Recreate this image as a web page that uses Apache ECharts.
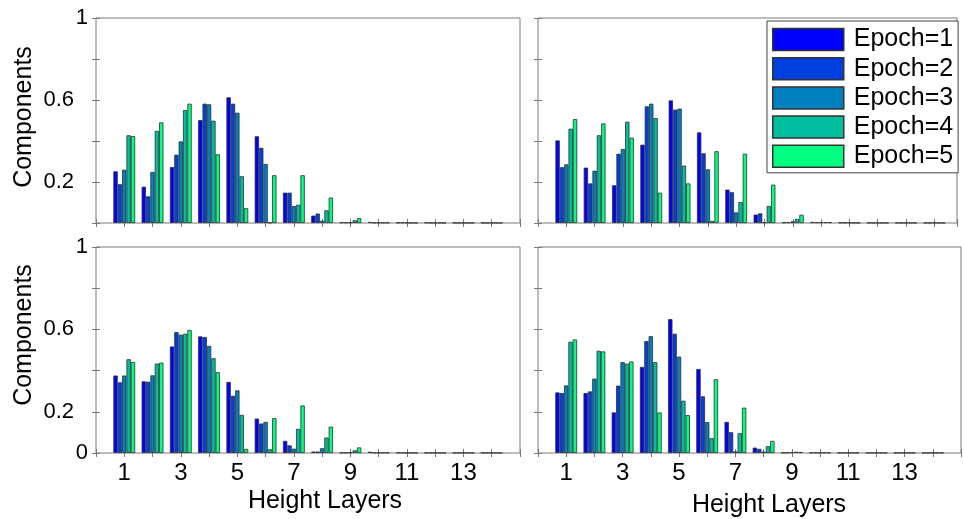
<!DOCTYPE html>
<html><head><meta charset="utf-8">
<script src="https://cdn.jsdelivr.net/npm/echarts@6/dist/echarts.min.js"></script>
<style>html,body{margin:0;padding:0;background:#fff}#c{width:964px;height:519px}</style>
</head><body><div id="c"></div>
<script>
const heightLayers = [1,2,3,4,5,6,7,8,9,10,11,12,13,14];
const epochNames = ['Epoch=1','Epoch=2','Epoch=3','Epoch=4','Epoch=5'];
const epochColors = ['#0000FF','#0040DF','#0080BF','#00BF9F','#00FF80'];
const xTickLabels = ['1','3','5','7','9','11','13'];
const yTickLabelsTop = ['0.2','0.6','1'];
const yTickLabelsBottom = ['0','0.2','0.6','1'];
const yTitle = 'Components';
const xTitle = 'Height Layers';

// Top-left panel
const tl_e1 = [0.252,0.177,0.273,0.502,0.613,0.423,0.148,0.036,0.003,0.005,0.002,0.002,0.001,0.001];
const tl_e2 = [0.189,0.130,0.333,0.582,0.582,0.367,0.148,0.046,0.003,0.002,0.002,0.001,0.001,0.001];
const tl_e3 = [0.260,0.249,0.398,0.579,0.538,0.288,0.083,0.011,0.003,0.002,0.002,0.001,0.001,0.001];
const tl_e4 = [0.428,0.449,0.551,0.499,0.228,0.002,0.089,0.062,0.013,0.002,0.001,0.001,0.001,0.001];
const tl_e5 = [0.424,0.491,0.582,0.335,0.072,0.233,0.233,0.124,0.024,0.002,0.001,0.001,0.001,0.001];
// Top-right panel
const tr_e1 = [0.403,0.270,0.184,0.382,0.598,0.442,0.163,0.041,0.003,0.005,0.002,0.001,0.001,0.001];
const tr_e2 = [0.272,0.193,0.338,0.569,0.553,0.340,0.150,0.047,0.004,0.004,0.002,0.001,0.001,0.001];
const tr_e3 = [0.286,0.255,0.361,0.582,0.558,0.262,0.052,0.003,0.008,0.004,0.002,0.001,0.001,0.001];
const tr_e4 = [0.460,0.428,0.494,0.512,0.280,0.010,0.102,0.083,0.020,0.004,0.001,0.001,0.001,0.001];
const tr_e5 = [0.507,0.486,0.416,0.148,0.193,0.350,0.338,0.187,0.040,0.004,0.001,0.001,0.001,0.001];
// Bottom-left panel
const bl_e1 = [0.376,0.348,0.517,0.566,0.345,0.167,0.059,0.007,0.002,0.006,0.002,0.001,0.001,0.001];
const bl_e2 = [0.343,0.346,0.587,0.563,0.278,0.143,0.037,0.007,0.002,0.002,0.001,0.001,0.001,0.001];
const bl_e3 = [0.376,0.377,0.574,0.520,0.304,0.151,0.021,0.023,0.003,0.002,0.001,0.001,0.001,0.001];
const bl_e4 = [0.455,0.434,0.579,0.460,0.185,0.018,0.117,0.075,0.013,0.002,0.001,0.001,0.001,0.001];
const bl_e5 = [0.442,0.439,0.597,0.392,0.020,0.169,0.231,0.128,0.027,0.002,0.001,0.001,0.001,0.001];
// Bottom-right panel
const br_e1 = [0.294,0.291,0.197,0.418,0.650,0.408,0.151,0.026,0.002,0.002,0.001,0.001,0.001,0.001];
const br_e2 = [0.291,0.299,0.327,0.543,0.579,0.275,0.101,0.020,0.002,0.002,0.001,0.001,0.001,0.001];
const br_e3 = [0.328,0.361,0.441,0.567,0.468,0.150,0.008,0.007,0.004,0.002,0.001,0.001,0.001,0.001];
const br_e4 = [0.540,0.496,0.434,0.441,0.254,0.072,0.096,0.033,0.006,0.002,0.001,0.001,0.001,0.001];
const br_e5 = [0.551,0.493,0.444,0.197,0.184,0.358,0.220,0.059,0.005,0.002,0.001,0.001,0.001,0.001];

const panels = [
  {data:[tl_e1,tl_e2,tl_e3,tl_e4,tl_e5], left:96, top:18, width:424, height:205, xmax:15, yLabels:yTickLabelsTop, xLabels:false, showY:true},
  {data:[tr_e1,tr_e2,tr_e3,tr_e4,tr_e5], left:538, top:18, width:419, height:205, xmax:14.8, yLabels:[], xLabels:false, showY:false},
  {data:[bl_e1,bl_e2,bl_e3,bl_e4,bl_e5], left:96, top:247, width:424, height:206, xmax:15, yLabels:yTickLabelsBottom, xLabels:true, showY:true},
  {data:[br_e1,br_e2,br_e3,br_e4,br_e5], left:538, top:247, width:425, height:206, xmax:15, yLabels:[], xLabels:true, showY:false}
];

const FONT = 'Liberation Sans, Arial, sans-serif';
const frameColor = '#7a7a7a';
const grids = [], xAxes = [], yAxes = [], series = [];

panels.forEach((p, g) => {
  grids.push({left:p.left, top:p.top, width:p.width, height:p.height, show:true, borderColor:frameColor, borderWidth:1, backgroundColor:'#fff'});
  ['bottom','top'].forEach((pos, k) => {
    xAxes.push({
      gridIndex:g, type:'value', min:0, max:p.xmax, interval:1, position:pos,
      axisLine:{show:false}, splitLine:{show:false},
      axisTick:{show:true, inside:true, length:4, lineStyle:{color:frameColor}},
      axisLabel:{show: p.xLabels && k===0, margin:8, fontSize:24, fontFamily:FONT, color:'#000',
        formatter: v => { const s = String(Math.round(v*1000)/1000); return xTickLabels.includes(s) ? s : ''; }}
    });
  });
  ['left','right'].forEach((pos, k) => {
    yAxes.push({
      gridIndex:g, type:'value', min:0, max:1, interval:0.2, position:pos,
      axisLine:{show:false}, splitLine:{show:false},
      axisTick:{show:true, inside:true, length:4, lineStyle:{color:frameColor}},
      axisLabel:{show: p.showY && k===0, margin:8, fontSize:22, fontFamily:FONT, color:'#000',
        rich:{d:{padding:[0,14,0,0], fontSize:22, fontFamily:FONT, color:'#000'}},
        formatter: v => {
          const s = String(Math.round(v*10)/10);
          if (!p.yLabels.includes(s)) return '';
          return s.indexOf('.') >= 0 ? '{d|' + s + '}' : s;
        }}
    });
  });
  p.data.forEach((arr, e) => {
    series.push({
      type:'bar', name:epochNames[e], xAxisIndex:2*g, yAxisIndex:2*g,
      data: heightLayers.map((h, i) => [h, arr[i]]),
      barWidth:4.36, barGap:'0%',
      itemStyle:{color:epochColors[e], borderColor:'#303030', borderWidth:0.8},
      emphasis:{disabled:true}
    });
  });
});

const chart = echarts.init(document.getElementById('c'), null, {renderer:'canvas'});
chart.setOption({
  animation:false,
  backgroundColor:'#fff',
  grid:grids, xAxis:xAxes, yAxis:yAxes, series:series,
  legend:{
    data:epochNames, left:767, top:21, orient:'vertical', icon:'rect',
    itemWidth:71, itemHeight:22, itemGap:4.2, padding:[6,5,4,5],
    borderColor:'#404040', borderWidth:1, backgroundColor:'#fff', selectedMode:false,
    itemStyle:{borderColor:'#333', borderWidth:1.5},
    textStyle:{fontSize:25, fontFamily:FONT, color:'#000', padding:[0,0,0,5]}
  },
  graphic:[
    {type:'text', x:24, y:117, rotation:Math.PI/2, style:{text:yTitle, fontSize:25, fontFamily:FONT, fill:'#000', align:'center', verticalAlign:'middle'}},
    {type:'text', x:24, y:335, rotation:Math.PI/2, style:{text:yTitle, fontSize:25, fontFamily:FONT, fill:'#000', align:'center', verticalAlign:'middle'}},
    {type:'text', x:325, y:501, style:{text:xTitle, fontSize:25, fontFamily:FONT, fill:'#000', align:'center', verticalAlign:'middle'}},
    {type:'text', x:769, y:505, style:{text:xTitle, fontSize:25, fontFamily:FONT, fill:'#000', align:'center', verticalAlign:'middle'}}
  ]
});
</script></body></html>
